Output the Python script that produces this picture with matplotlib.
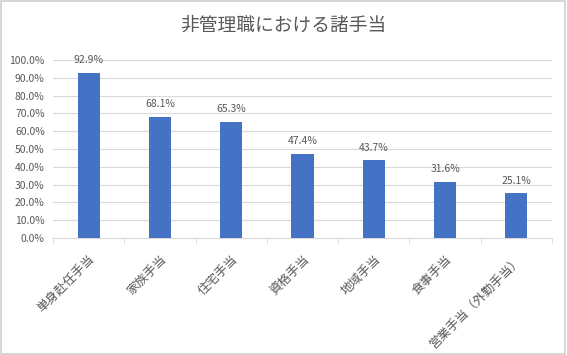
import numpy as np
import matplotlib.pyplot as plt
from matplotlib.ticker import FuncFormatter

plt.rcParams['font.family'] = ['Noto Sans CJK JP', 'DejaVu Sans']

categories = ['単身赴任手当', '家族手当', '住宅手当', '資格手当', '地域手当', '食事手当', '営業手当（外勤手当）']
values = [92.9, 68.1, 65.3, 47.4, 43.7, 31.6, 25.1]

text_gray = '#595959'
bar_color = '#4472C4'

fig = plt.figure(figsize=(5.67, 3.55), dpi=100)
ax = fig.add_axes([53 / 567, 1 - 238 / 355, 499 / 567, 178 / 355])

x = np.arange(len(categories))
bars = ax.bar(x, values, width=0.31, color=bar_color, zorder=3)

# data labels above each bar
for xi, v in zip(x, values):
    ax.text(xi, v + 7, f'{v:.1f}%', ha='center', va='center', fontsize=7.5, color=text_gray)

ax.set_xlim(-0.5, len(categories) - 0.5)
ax.set_ylim(0, 100)
ax.set_yticks(np.arange(0, 101, 10))
ax.yaxis.set_major_formatter(FuncFormatter(lambda v, p: f'{v:.1f}%'))
ax.tick_params(axis='y', length=0, labelsize=7.5, labelcolor=text_gray, pad=6)
ax.grid(axis='y', color='#d9d9d9', linewidth=0.8, zorder=0)

ax.set_xticks(x)
ax.set_xticklabels(categories, rotation=45, ha='right', rotation_mode='anchor',
                   fontsize=9, color=text_gray)
ax.tick_params(axis='x', length=0, pad=11)
ax.set_xticks(np.arange(-0.5, len(categories), 1), minor=True)
ax.tick_params(axis='x', which='minor', length=4, color='#d9d9d9')

for side in ['top', 'right', 'left']:
    ax.spines[side].set_visible(False)
ax.spines['bottom'].set_color('#d9d9d9')

fig.text(0.5, 1 - 25 / 355, '非管理職における諸手当', ha='center', va='center',
         fontsize=13.5, color=text_gray)

fig.patches.append(plt.Rectangle((0.002, 0.003), 0.995, 0.993, transform=fig.transFigure,
                                 fill=False, edgecolor='#d0d0d0', linewidth=1.2))

fig.savefig('out.png', dpi=100)
